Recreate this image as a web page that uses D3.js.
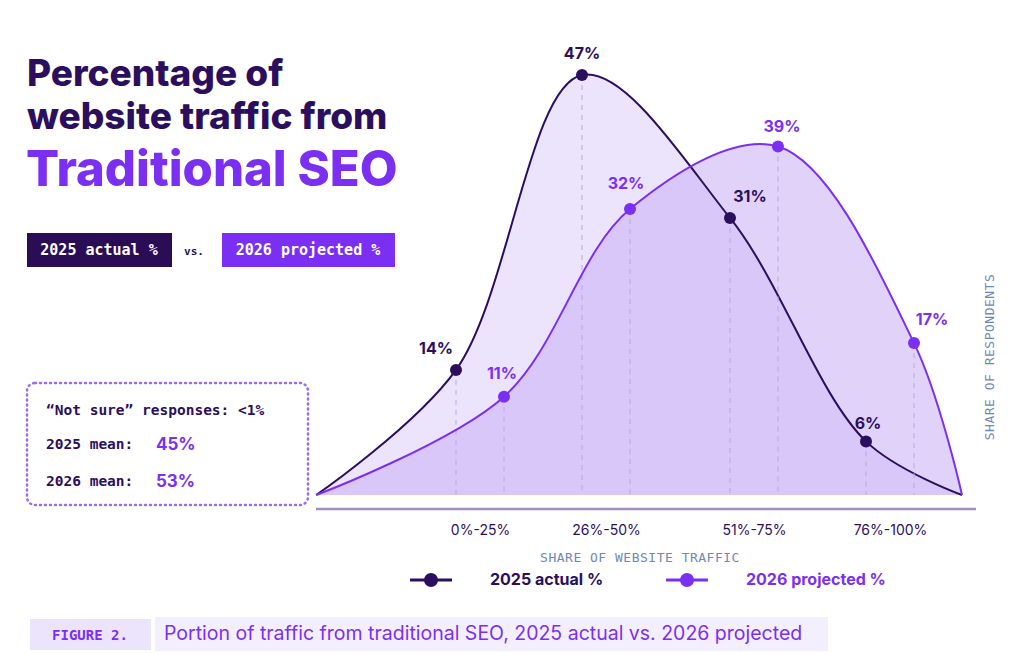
<!DOCTYPE html>
<html>
<head>
<meta charset="utf-8">
<style>
  body { margin: 0; background: #fff; }
  text { font-family: Inter, "Noto Sans", sans-serif; }
  .mono { font-family: "DejaVu Sans Mono", monospace; }
</style>
</head>
<body>
<script src="https://cdn.jsdelivr.net/npm/d3@7"></script>
<script>
// Data
var categories = ["0%-25%", "26%-50%", "51%-75%", "76%-100%"];
var actual2025 = [14, 47, 31, 6];
var projected2026 = [11, 32, 39, 17];

var dark = "#2b0f5e", purple = "#7b2ff2";

var svg = d3.select("body").append("svg")
    .attr("width", 1024).attr("height", 654);

// scales: category index -> x, percent -> y
var x = d3.scaleLinear().domain([-1, 0, 1, 2, 3, 4]).range([340, 480, 606, 754, 890, 1010]);
var y = d3.scaleLinear().domain([0, 47]).range([495, 75]);
var edgeL = -1.17, edgeR = 3.6;

function pts(vals, off) {
  var p = [[x(edgeL), y(0)]];
  vals.forEach((v, i) => p.push([x(i) + off, y(v)]));
  p.push([x(edgeR), y(0)]);
  return p;
}
var line = d3.line().curve(d3.curveCatmullRom.alpha(0.5));
var area = d3.area().curve(d3.curveCatmullRom.alpha(0.5)).y0(y(0));

var series = [
  {vals: actual2025, off: -24, color: dark, fill: "#e9dffb", op: 0.85,
   lab: [[-20, -16], [0, -16], [20, -16], [2, -12]]},
  {vals: projected2026, off: 24, color: purple, fill: "#cdb4f7", op: 0.6,
   lab: [[-2, -18], [-4, -20], [4, -14], [18, -18]]}
];

series.forEach(s => {
  var p = pts(s.vals, s.off);
  svg.append("path").attr("d", area.x(d => d[0]).y1(d => d[1])(p))
    .attr("fill", s.fill).attr("opacity", s.op);
});
series.forEach(s => {
  var p = pts(s.vals, s.off);
  s.vals.forEach((v, i) => {
    svg.append("line").attr("x1", x(i) + s.off).attr("x2", x(i) + s.off)
      .attr("y1", y(v)).attr("y2", y(0))
      .attr("stroke", "#b9a8dc").attr("stroke-dasharray", "5,5");
  });
  svg.append("path").attr("d", line(p)).attr("fill", "none")
    .attr("stroke", s.color).attr("stroke-width", 2);
});
series.forEach(s => {
  s.vals.forEach((v, i) => {
    svg.append("circle").attr("cx", x(i) + s.off).attr("cy", y(v)).attr("r", 6)
      .attr("fill", s.color);
    svg.append("text").attr("x", x(i) + s.off + s.lab[i][0]).attr("y", y(v) + s.lab[i][1])
      .attr("text-anchor", "middle").attr("font-weight", 700).attr("font-size", 16)
      .attr("fill", s.color).text(v + "%");
  });
});

// x axis
svg.append("line").attr("x1", 316).attr("x2", 976).attr("y1", 509).attr("y2", 509)
  .attr("stroke", "#9d8fc6").attr("stroke-width", 2.5);
var xAxis = d3.axisBottom(x).tickValues([0, 1, 2, 3]).tickFormat(i => categories[i]).tickSize(0);
var ga = svg.append("g").attr("transform", "translate(0,522)").call(xAxis);
ga.select(".domain").remove();
ga.selectAll("text").attr("font-size", 14).attr("fill", dark)
  .style("font-family", "Inter, sans-serif");

svg.append("text").attr("class", "mono").attr("x", 640).attr("y", 562).attr("text-anchor", "middle")
  .attr("font-size", 13).attr("fill", "#7088b4").attr("letter-spacing", 0.5).text("SHARE OF WEBSITE TRAFFIC");
svg.append("text").attr("class", "mono").attr("transform", "translate(994,357) rotate(-90)")
  .attr("text-anchor", "middle").attr("font-size", 13).attr("fill", "#7088b4").attr("letter-spacing", 0.5)
  .text("SHARE OF RESPONDENTS");

// legend
[[410, dark, "2025 actual %"], [666, purple, "2026 projected %"]].forEach(l => {
  svg.append("line").attr("x1", l[0]).attr("x2", l[0] + 42).attr("y1", 580).attr("y2", 580)
    .attr("stroke", l[1]).attr("stroke-width", 3);
  svg.append("circle").attr("cx", l[0] + 21).attr("cy", 580).attr("r", 7).attr("fill", l[1]);
  svg.append("text").attr("x", l[0] + 80).attr("y", 585).attr("font-size", 16).attr("font-weight", 700)
    .attr("fill", l[1]).text(l[2]);
});

// title
svg.append("text").attr("x", 27).attr("y", 86).attr("font-size", 37).attr("font-weight", 800)
  .attr("fill", dark).text("Percentage of");
svg.append("text").attr("x", 27).attr("y", 129).attr("font-size", 37).attr("font-weight", 800)
  .attr("fill", dark).text("website traffic from");
svg.append("text").attr("x", 26).attr("y", 186).attr("font-size", 49).attr("font-weight", 800)
  .attr("fill", purple).text("Traditional SEO");

// badges
svg.append("rect").attr("x", 27).attr("y", 233).attr("width", 145).attr("height", 34).attr("fill", "#2a0d55");
svg.append("text").attr("class", "mono").attr("x", 99).attr("y", 255).attr("text-anchor", "middle")
  .attr("font-size", 15).attr("font-weight", 700).attr("fill", "#fff").text("2025 actual %");
svg.append("text").attr("class", "mono").attr("x", 194).attr("y", 255).attr("text-anchor", "middle")
  .attr("font-size", 11).attr("font-weight", 700).attr("fill", dark).text("vs.");
svg.append("rect").attr("x", 222).attr("y", 233).attr("width", 173).attr("height", 34).attr("fill", purple);
svg.append("text").attr("class", "mono").attr("x", 308).attr("y", 255).attr("text-anchor", "middle")
  .attr("font-size", 15).attr("font-weight", 700).attr("fill", "#fff").text("2026 projected %");

// note box
svg.append("rect").attr("x", 27).attr("y", 383).attr("width", 281).attr("height", 122).attr("rx", 8)
  .attr("fill", "none").attr("stroke", "#9b6cf0").attr("stroke-width", 2.5).attr("stroke-dasharray", "1,4")
  .attr("stroke-linecap", "round");
svg.append("text").attr("class", "mono").attr("x", 46).attr("y", 415).attr("font-size", 14.5).attr("font-weight", 700)
  .attr("fill", dark).text("\u201cNot sure\u201d responses: <1%");
[["2025 mean:", "45%", 449], ["2026 mean:", "53%", 486]].forEach(m => {
  svg.append("text").attr("class", "mono").attr("x", 46).attr("y", m[2]).attr("font-size", 14.5).attr("font-weight", 700)
    .attr("fill", dark).text(m[0]);
  svg.append("text").attr("x", 156).attr("y", m[2] + 1).attr("font-size", 17).attr("font-weight", 700)
    .attr("fill", purple).text(m[1]);
});

// footer
svg.append("rect").attr("x", 30).attr("y", 619).attr("width", 121).attr("height", 31).attr("fill", "#ece3fd");
svg.append("text").attr("class", "mono").attr("x", 90).attr("y", 640).attr("text-anchor", "middle")
  .attr("font-size", 14).attr("font-weight", 700).attr("fill", purple).text("FIGURE 2.");
svg.append("rect").attr("x", 155).attr("y", 617).attr("width", 673).attr("height", 34).attr("fill", "#f4effe");
svg.append("text").attr("x", 164).attr("y", 640).attr("font-size", 19.5).attr("fill", purple)
  .text("Portion of traffic from traditional SEO, 2025 actual vs. 2026 projected");
</script>
</body>
</html>
